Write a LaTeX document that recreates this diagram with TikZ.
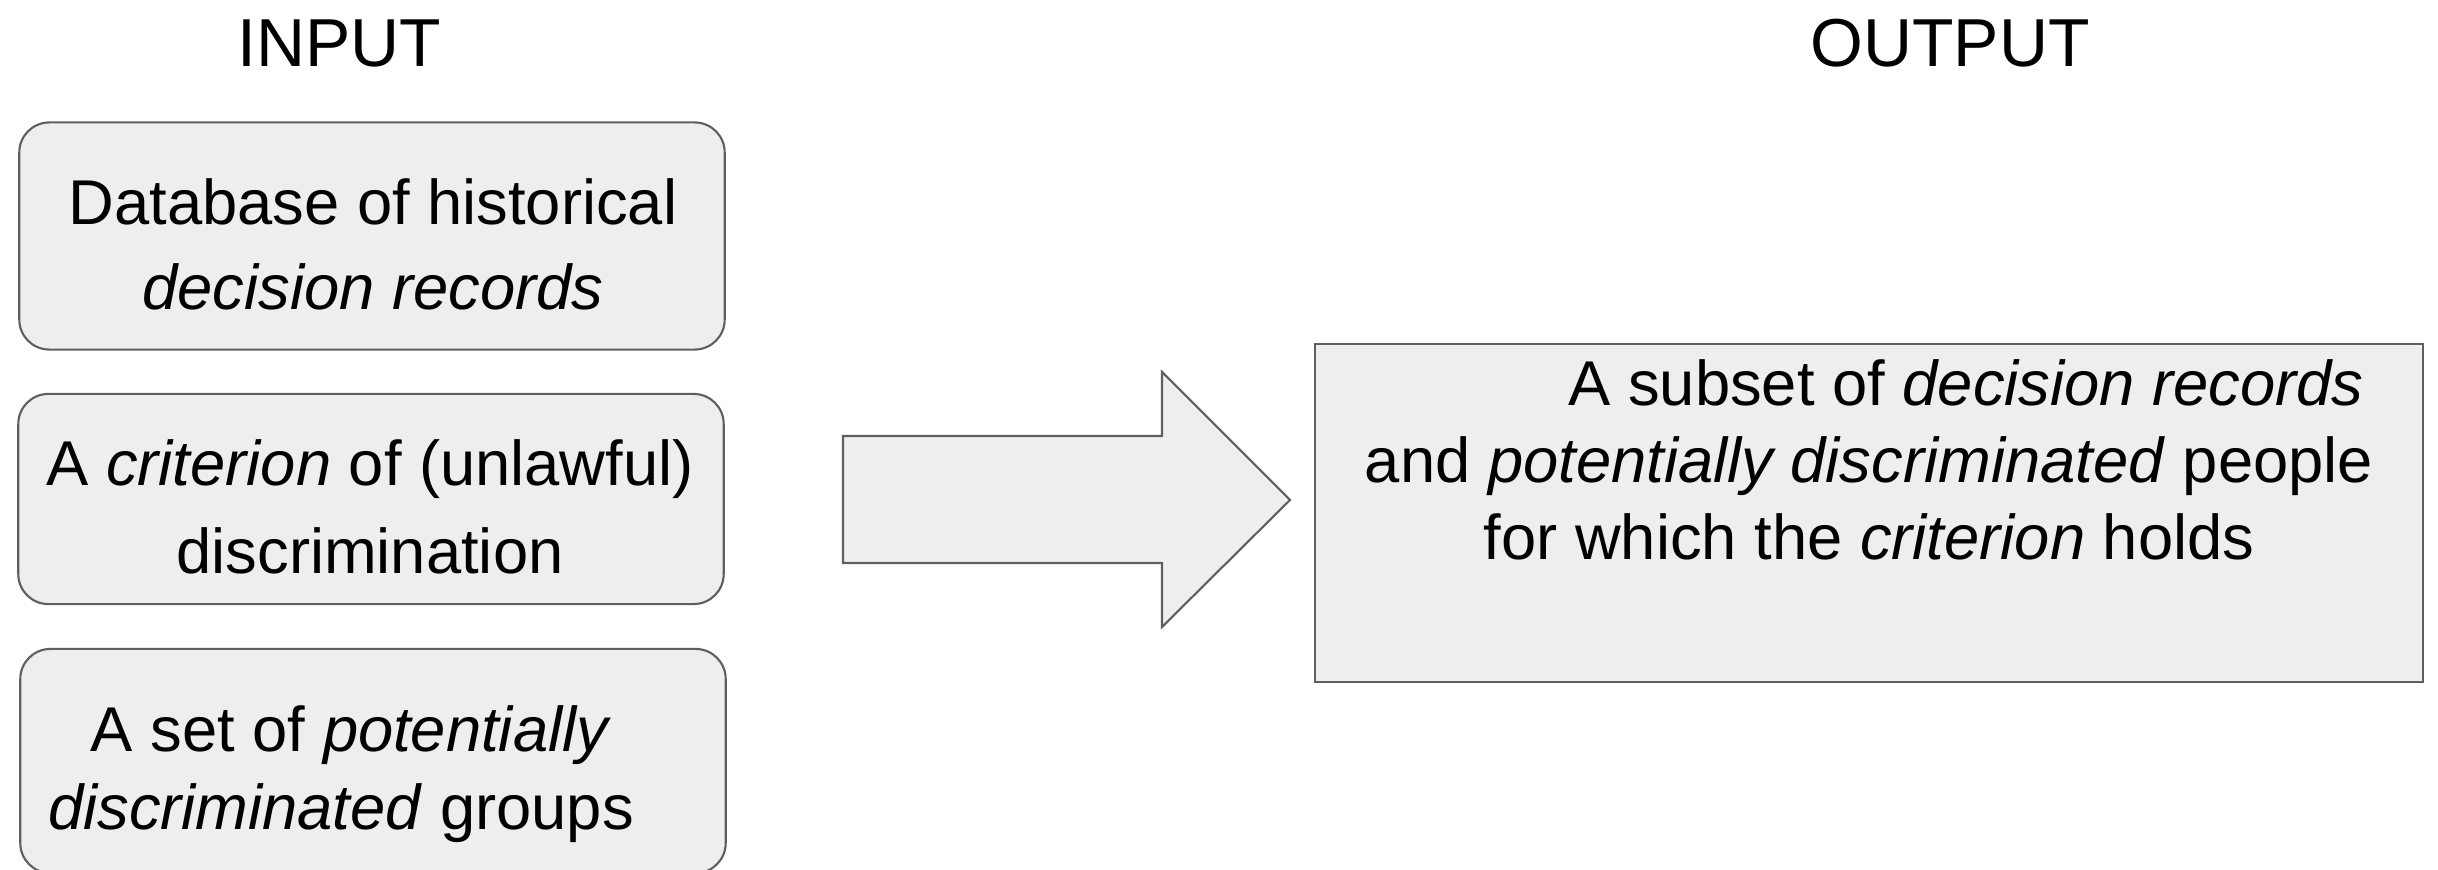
\documentclass[tikz,border=0pt]{standalone}
\usepackage{fontspec}
\setmainfont{Liberation Sans}
\usetikzlibrary{calc}
\usetikzlibrary{positioning}
\definecolor{boxfill}{HTML}{EEEEEE}
\definecolor{boxline}{HTML}{5F5F5F}
\def\bw{7.05cm}
\def\rr{0.3cm}

\begin{document}
\begin{tikzpicture}
    [
        x=0.01cm, y=-0.01cm,
        inbox/.style={draw=boxline, fill=boxfill, line width=0.6pt, rounded corners=\rr, inner sep=0pt, minimum width=\bw},
        outbox/.style={draw=boxline, fill=boxfill, line width=0.6pt, inner sep=0pt},
        bigarrow/.style={draw=boxline, fill=boxfill, line width=0.6pt, line join=miter},
        intext/.style={align=center, inner sep=0pt, font=\fontsize{18}{#1}\selectfont},
        title/.style={inner sep=0pt, anchor=base, font=\fontsize{19.3}{23}\selectfont}
    ]
%    \draw[style=help lines,step=100] (0,0) grid (2438,870);
    \node[title] (intitle) at (339,67) {INPUT};
    \node[title] (outtitle) at (1950,67) {OUTPUT};

    % input boxes
    \node[inbox, minimum height=2.27cm] (db) at (372,236) {};
    \node[intext=24.2pt] (dbtext) at (373,244) {Database of historical\\\textit{decision records}};

    \node[inbox, minimum height=2.10cm] (crit) at (371,499) {};
    \node[intext=25pt] (crittext) at (370,507) {A \textit{criterion} of (unlawful)\\discrimination};

    \node[inbox, minimum height=2.24cm] (grp) at (373,761) {};
    \node[intext=22.2pt] (grptext) at (341,774) {\hspace*{0.2cm}A set of \textit{potentially}\\\textit{discriminated} groups};

    % arrow
    \coordinate (a0) at (843,436);
    \coordinate (a1) at (1162,436);
    \coordinate (a2) at (1162,372);
    \coordinate (tip) at (1290,500);
    \coordinate (a3) at (1162,627);
    \coordinate (a4) at (1162,563);
    \coordinate (a5) at (843,563);
    \draw[bigarrow] (a0) -- (a1) -- (a2) -- (tip) -- (a3) -- (a4) -- (a5) -- cycle;

    % output box
    \node[outbox, minimum width=11.08cm, minimum height=3.37cm] (out) at (1869,513) {};
    \node[intext=21.9pt] (outtext) at (1869,460) {\hspace*{1.94cm}A subset of \textit{decision records}\\and \textit{potentially discriminated} people\\for which the \textit{criterion} holds};

    \pgfresetboundingbox
    \useasboundingbox (0,0) rectangle (2438,870);
\end{tikzpicture}
\end{document}
